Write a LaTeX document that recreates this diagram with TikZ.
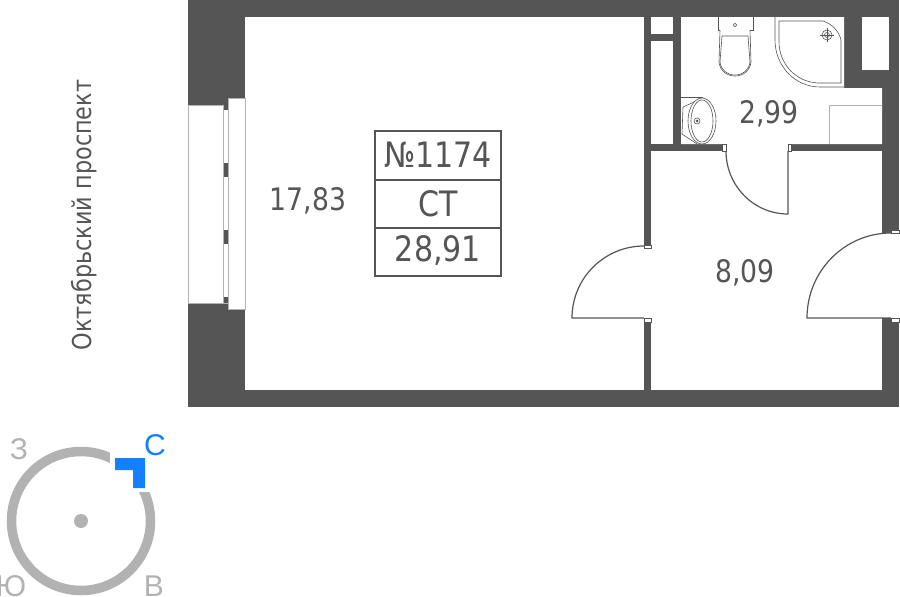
\documentclass[tikz,border=0pt]{standalone}
\usepackage{fontspec}
\setmainfont[FakeStretch=0.86]{DejaVu Sans}
\newfontfamily\compassfont{Liberation Sans}
\definecolor{wallgray}{HTML}{555555}
\definecolor{ringgray}{HTML}{B2B2B2}
\definecolor{northblue}{HTML}{147FFF}
\begin{document}
\begin{tikzpicture}[x=1pt,y=-1pt]
		\tikzstyle{room}=[fill=white,draw=none]
		\tikzstyle{thin}=[draw=wallgray,line width=1.2pt]
		\tikzstyle{fixture}=[draw=wallgray,line width=0.6pt,fill=white]
		\tikzstyle{jamb}=[draw=wallgray,line width=0.8pt,fill=white]
		\tikzstyle{pane}=[draw=ringgray,line width=1pt,fill=white]
		\tikzstyle{area}=[text=wallgray,font=\fontsize{31}{31}\selectfont]
		\tikzstyle{boxed}=[text=wallgray,font=\fontsize{35}{35}\selectfont]
		\tikzstyle{side}=[text=ringgray,font=\compassfont\fontsize{30}{30}\selectfont]
		\useasboundingbox (0,0) rectangle (900,597);

		\fill[wallgray] (188,0) rectangle (899,407);
		\fill[room] (245,17) rectangle (644,390);
		\fill[room] (651,151) rectangle (882,390);
		\fill[room] (651,17) rectangle (673,34);
		\fill[room] (651,41) rectangle (673,144);
		\fill[room] (681,17) -- (844,17) -- (844,88) -- (882,88) -- (882,144) -- (681,144) -- cycle;
		\fill[room] (862,17) rectangle (889,70);
		\fill[room] (644,248) rectangle (651,318);
		\fill[room] (882,233) rectangle (900,318);
		\fill[room] (726,144) rectangle (788,151);

		\draw[pane] (223,105) rectangle (228,303);
		\fill[wallgray] (223,105) rectangle (228,110);
		\fill[wallgray] (223,163) rectangle (228,177);
		\fill[wallgray] (223,230) rectangle (228,244);
		\fill[wallgray] (223,297) rectangle (228,303);
		\draw[pane] (188,105) rectangle (223,303);
		\draw[pane] (228,98) rectangle (245,309);

		\draw[jamb] (644,245) rectangle (651,248);
		\draw[jamb] (644,318) rectangle (651,322);
		\draw[jamb] (891,230) rectangle (899,233);
		\draw[jamb] (891,318) rectangle (899,322);
		\draw[jamb] (722,144) rectangle (726,151);
		\draw[jamb] (788,144) rectangle (791,151);
		\draw[thin] (644,318) -- (572,318) arc (180:270:72);
		\draw[thin] (891,318) -- (807,318) arc (180:270:84 and 85);
		\draw[thin] (788,151) -- (788,214) arc (90:180:62 and 63);

		\draw[fixture] (718,17) -- (718,30) -- (753,30) -- (753,17);
		\draw[fixture] (735,25) circle (1.8);
		\draw[fixture] (720,30) -- (719,62) .. controls (720,71) and (727,76) .. (735,76) .. controls (743,76) and (750,71) .. (751,62) -- (750,30);
		\draw[fixture] (722,36) -- (748,36) -- (750,62) .. controls (749,70) and (743,75) .. (735,75) .. controls (727,75) and (721,70) .. (720,62) -- cycle;

		\draw[fixture] (775,17) -- (775,40) .. controls (775,66) and (795,87) .. (820,87) -- (844,87);
		\draw[fixture] (779,21) -- (823,21) .. controls (832,24) and (839,31) .. (841,40) -- (841,83) -- (818,83) .. controls (796,82) and (779,64) .. (779,42) -- cycle;
		\draw[fixture] (827,35) circle (5);
		\draw[fixture] (827,35) circle (2.5);
		\draw[wallgray,line width=0.6pt] (820,35) -- (834,35) (827,28) -- (827,42);

		\draw[fixture] (681,97) -- (703,97);
		\draw[fixture] (703,98) -- (683,107) -- (682,134) -- (697,144);
		\draw[fixture] (702,121) ellipse (14 and 23);
		\draw[fixture] (702,121) ellipse (11 and 21);
		\draw[fixture] (697,121) circle (3);
		\fill[wallgray] (697,121) circle (1.5);

		\draw[ringgray,line width=1pt] (829,144) -- (829,105) -- (882,105);

		\node[area] (living) at (308,201) {17,83};
		\node[area] (bath) at (769,114) {2,99};
		\node[area] (hall) at (745,273) {8,09};

		\draw[thin,fill=white] (375,131) rectangle (501,276);
		\draw[thin] (375,180) -- (501,180);
		\draw[thin] (375,228) -- (501,228);
		\node[boxed] (number) at (438,155) {№1174};
		\node[boxed] (type) at (438,204) {СТ};
		\node[boxed] (total) at (438,251) {28,91};

		\node[text=wallgray,rotate=90,font=\fontsize{26}{26}\selectfont] (street) at (84,215) {Октябрьский проспект};

		\draw[ringgray,line width=9.5pt] (81,521) circle (69.5);
		\fill[room] (110,440) rectangle (165,492);
		\fill[ringgray] (81,521) circle (7);
		\fill[northblue] (115,458) -- (145,458) -- (145,488) -- (133,488) -- (133,470) -- (115,470) -- cycle;
		\node[text=northblue,font=\compassfont\fontsize{30}{30}\selectfont] (north) at (155,445) {С};
		\node[side] (west) at (19,449) {З};
		\node[side] (south) at (11,586) {Ю};
		\node[side] (east) at (154,586) {В};
	\end{tikzpicture}
\end{document}
